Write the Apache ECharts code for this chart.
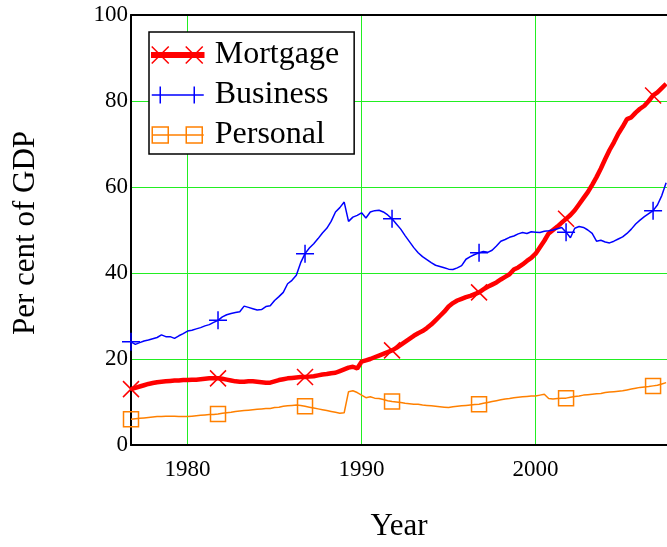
<!DOCTYPE html>
<html>
<head>
<meta charset="utf-8">
<script src="https://cdn.jsdelivr.net/npm/echarts@6/dist/echarts.min.js"></script>
<style>html,body{margin:0;padding:0;background:#fff}#c{width:667px;height:547px}</style>
</head>
<body>
<div id="c"></div>
<script>
// Quarterly observations, Q4 1976 .. Q3 2007
const years = [
1976.75,
1977,1977.25,1977.5,1977.75,1978,1978.25,1978.5,1978.75,1979,1979.25,1979.5,1979.75,
1980,1980.25,1980.5,1980.75,1981,1981.25,1981.5,1981.75,1982,1982.25,1982.5,1982.75,
1983,1983.25,1983.5,1983.75,1984,1984.25,1984.5,1984.75,1985,1985.25,1985.5,1985.75,
1986,1986.25,1986.5,1986.75,1987,1987.25,1987.5,1987.75,1988,1988.25,1988.5,1988.75,
1989,1989.25,1989.5,1989.75,1990,1990.25,1990.5,1990.75,1991,1991.25,1991.5,1991.75,
1992,1992.25,1992.5,1992.75,1993,1993.25,1993.5,1993.75,1994,1994.25,1994.5,1994.75,
1995,1995.25,1995.5,1995.75,1996,1996.25,1996.5,1996.75,1997,1997.25,1997.5,1997.75,
1998,1998.25,1998.5,1998.75,1999,1999.25,1999.5,1999.75,2000,2000.25,2000.5,2000.75,
2001,2001.25,2001.5,2001.75,2002,2002.25,2002.5,2002.75,2003,2003.25,2003.5,2003.75,
2004,2004.25,2004.5,2004.75,2005,2005.25,2005.5,2005.75,2006,2006.25,2006.5,2006.75,
2007,2007.25,2007.5
];
const mortgage = [
13.0,
13.3,13.6,13.9,14.2,14.4,14.6,14.7,14.8,14.9,15.0,15.0,15.1,
15.1,15.2,15.2,15.3,15.4,15.5,15.5,15.5,15.4,15.2,15.0,14.8,
14.7,14.7,14.8,14.8,14.7,14.6,14.5,14.5,14.8,15.1,15.3,15.5,
15.6,15.7,15.8,15.8,15.9,16.0,16.2,16.4,16.5,16.7,16.8,17.2,
17.6,18.0,18.2,17.8,19.4,19.7,20.0,20.4,20.8,21.2,21.6,22.0,
22.6,23.3,24.0,24.7,25.4,26.0,26.5,27.2,28.0,29.0,30.0,31.0,
32.2,33.0,33.6,34.0,34.4,34.7,35.1,35.5,36.2,36.8,37.3,37.8,
38.5,39.1,39.7,40.8,41.3,42.0,42.8,43.5,44.5,46.0,47.5,49.2,
50.0,50.8,51.7,52.6,53.5,54.6,56.0,57.4,58.8,60.5,62.3,64.3,
66.5,68.6,70.4,72.4,74.0,75.8,76.2,77.3,78.2,78.9,80.0,81.3,
82.0,83.0,84.0
];
const business = [
24.0,
23.4,23.8,24.2,24.4,24.7,25.0,25.6,25.2,25.2,24.8,25.4,25.9,
26.5,26.7,27.0,27.3,27.7,28.0,28.5,29.0,29.8,30.3,30.6,30.8,
31.0,32.3,32.0,31.7,31.4,31.5,32.2,32.4,33.6,34.5,35.5,37.5,
38.3,39.5,42.4,44.5,45.8,46.8,48.0,49.3,50.4,52.0,54.2,55.2,
56.5,52.0,53.0,53.4,54.0,52.8,54.2,54.5,54.6,54.2,53.5,52.6,
51.4,50.2,48.7,47.3,45.9,44.7,43.8,43.1,42.4,41.8,41.5,41.2,
40.9,40.8,41.2,41.7,43.2,43.8,44.3,44.7,45.0,44.8,45.3,46.3,
47.4,47.8,48.3,48.6,49.1,49.4,49.2,49.6,49.5,49.4,49.7,49.8,
50.0,50.3,50.6,49.5,48.2,50.4,50.8,50.6,50.0,49.2,47.4,47.6,
47.2,47.0,47.4,47.9,48.4,49.2,50.2,51.4,52.3,53.1,53.8,54.5,
55.8,58.0,61.0
];
const personal = [
6.0,
6.1,6.2,6.3,6.4,6.5,6.6,6.6,6.7,6.7,6.7,6.6,6.6,
6.6,6.7,6.8,6.9,7.0,7.1,7.1,7.2,7.4,7.5,7.6,7.8,
7.9,8.0,8.1,8.2,8.3,8.4,8.5,8.5,8.7,8.8,9.0,9.1,
9.2,9.3,9.2,9.0,8.8,8.6,8.4,8.2,8.0,7.8,7.6,7.4,
7.5,12.4,12.6,12.2,11.6,11.0,11.2,10.9,10.8,10.6,10.3,10.1,
10.0,9.9,9.7,9.6,9.5,9.5,9.3,9.2,9.1,9.0,8.9,8.8,
8.7,8.9,9.0,9.1,9.2,9.3,9.4,9.5,9.7,9.9,10.1,10.3,
10.5,10.7,10.8,11.0,11.1,11.2,11.3,11.4,11.4,11.6,11.8,10.8,
10.7,10.8,10.9,10.9,11.1,11.3,11.4,11.6,11.7,11.8,11.9,12.0,
12.2,12.3,12.4,12.5,12.6,12.8,13.0,13.2,13.4,13.5,13.6,13.75,
13.9,14.2,14.5
];
// years carrying a marker
const markerYears = [1976.75, 1981.75, 1986.75, 1991.75, 1996.75, 2001.75, 2006.75];
const seriesNames = ['Mortgage', 'Business', 'Personal'];
const yTicks = [0, 20, 40, 60, 80, 100];

const FONT = 'Liberation Serif';
const RED = '#ff0000', BLUE = '#0000ff', ORANGE = '#ff8000', GREEN = '#22ee22';

const xSym = 'path://M0,0L10,10M10,0L0,10';
const plusSym = 'path://M5,0L5,10M0,5L10,5';

function build(vals, sym) {
  return years.map((y, i) => ({
    value: [y, vals[i]],
    symbol: markerYears.includes(y) ? sym : 'none'
  }));
}

const X_MIN = 1976.75, X_MAX = 2007.55;

const chart = echarts.init(document.getElementById('c'), null, {renderer: 'canvas'});
chart.setOption({
  animation: false,
  backgroundColor: '#fff',
  grid: {left: 131, top: 15, width: 536, height: 431, show: false, containLabel: false},
  legend: {
    left: 149, top: 32,
    orient: 'vertical',
    backgroundColor: '#fff',
    borderColor: '#000', borderWidth: 1.5, borderRadius: 0,
    padding: [7, 15, 3, 2],
    itemWidth: 52, itemHeight: 17, itemGap: 8,
    textStyle: {fontFamily: FONT, fontSize: 32, color: '#000', lineHeight: 30, padding: [0, 0, 0, 6]},
    selectedMode: false,
    data: [
      {name: 'Mortgage', icon: 'path://M0,6.25L52,6.25L52,10.75L0,10.75Z M0,0L17,17 M17,0L0,17 M34,0L51,17 M51,0L34,17',
        itemStyle: {color: RED, borderColor: RED, borderWidth: 1.5}},
      {name: 'Business', icon: 'path://M0,8.5L52,8.5 M8.5,0L8.5,17 M0,8.5L17,8.5 M42.5,0L42.5,17 M34,8.5L51,8.5',
        itemStyle: {color: 'rgba(0,0,0,0)', borderColor: BLUE, borderWidth: 1.5}},
      {name: 'Personal', icon: 'path://M0,8.5L52,8.5 M0.5,0.5L16.5,0.5L16.5,16.5L0.5,16.5Z M34.5,0.5L50.5,0.5L50.5,16.5L34.5,16.5Z',
        itemStyle: {color: 'rgba(0,0,0,0)', borderColor: ORANGE, borderWidth: 1.5}}
    ]
  },
  xAxis: [{
    type: 'value', min: X_MIN, max: X_MAX, splitNumber: 3,
    name: 'Year', nameLocation: 'middle', nameGap: 66,
    nameTextStyle: {fontFamily: FONT, fontSize: 31, color: '#000'},
    axisLine: {show: true, onZero: false, lineStyle: {color: '#000', width: 2}},
    axisTick: {show: false},
    axisLabel: {fontFamily: FONT, fontSize: 23, color: '#000', margin: 13, showMinLabel: false, showMaxLabel: false,
      formatter: v => String(v)},
    splitLine: {show: true, lineStyle: {color: GREEN, width: 1}}
  }, {
    type: 'value', position: 'top', min: X_MIN, max: X_MAX,
    axisLine: {show: true, onZero: false, lineStyle: {color: '#000', width: 2}},
    axisTick: {show: false}, axisLabel: {show: false}, splitLine: {show: false}
  }],
  yAxis: {
    type: 'value', min: yTicks[0], max: yTicks[yTicks.length - 1], interval: 20,
    name: 'Per cent of GDP', nameLocation: 'middle', nameGap: 90, nameRotate: 90,
    nameTextStyle: {fontFamily: FONT, fontSize: 31, color: '#000', padding: [0, 6, 0, 0]},
    axisLine: {show: true, lineStyle: {color: '#000', width: 2}},
    axisTick: {show: false},
    axisLabel: {fontFamily: FONT, fontSize: 23, color: '#000', margin: 3},
    splitLine: {show: true, lineStyle: {color: GREEN, width: 1}}
  },
  series: [
    {name: seriesNames[0], type: 'line', data: build(mortgage, xSym), showSymbol: true, showAllSymbol: true,
      symbolSize: 16, lineStyle: {color: RED, width: 4.5}, itemStyle: {color: 'rgba(0,0,0,0)', borderColor: RED, borderWidth: 1.5},
      emphasis: {disabled: true}, z: 3},
    {name: seriesNames[1], type: 'line', data: build(business, plusSym), showSymbol: true, showAllSymbol: true,
      symbolSize: 18, lineStyle: {color: BLUE, width: 1.5}, itemStyle: {color: 'rgba(0,0,0,0)', borderColor: BLUE, borderWidth: 1.5},
      emphasis: {disabled: true}, z: 4},
    {name: seriesNames[2], type: 'line', data: build(personal, 'rect'), showSymbol: true, showAllSymbol: true,
      symbolSize: 15, lineStyle: {color: ORANGE, width: 1.5}, itemStyle: {color: 'rgba(0,0,0,0)', borderColor: ORANGE, borderWidth: 1.5},
      emphasis: {disabled: true}, z: 3}
  ]
});
</script>
</body>
</html>
